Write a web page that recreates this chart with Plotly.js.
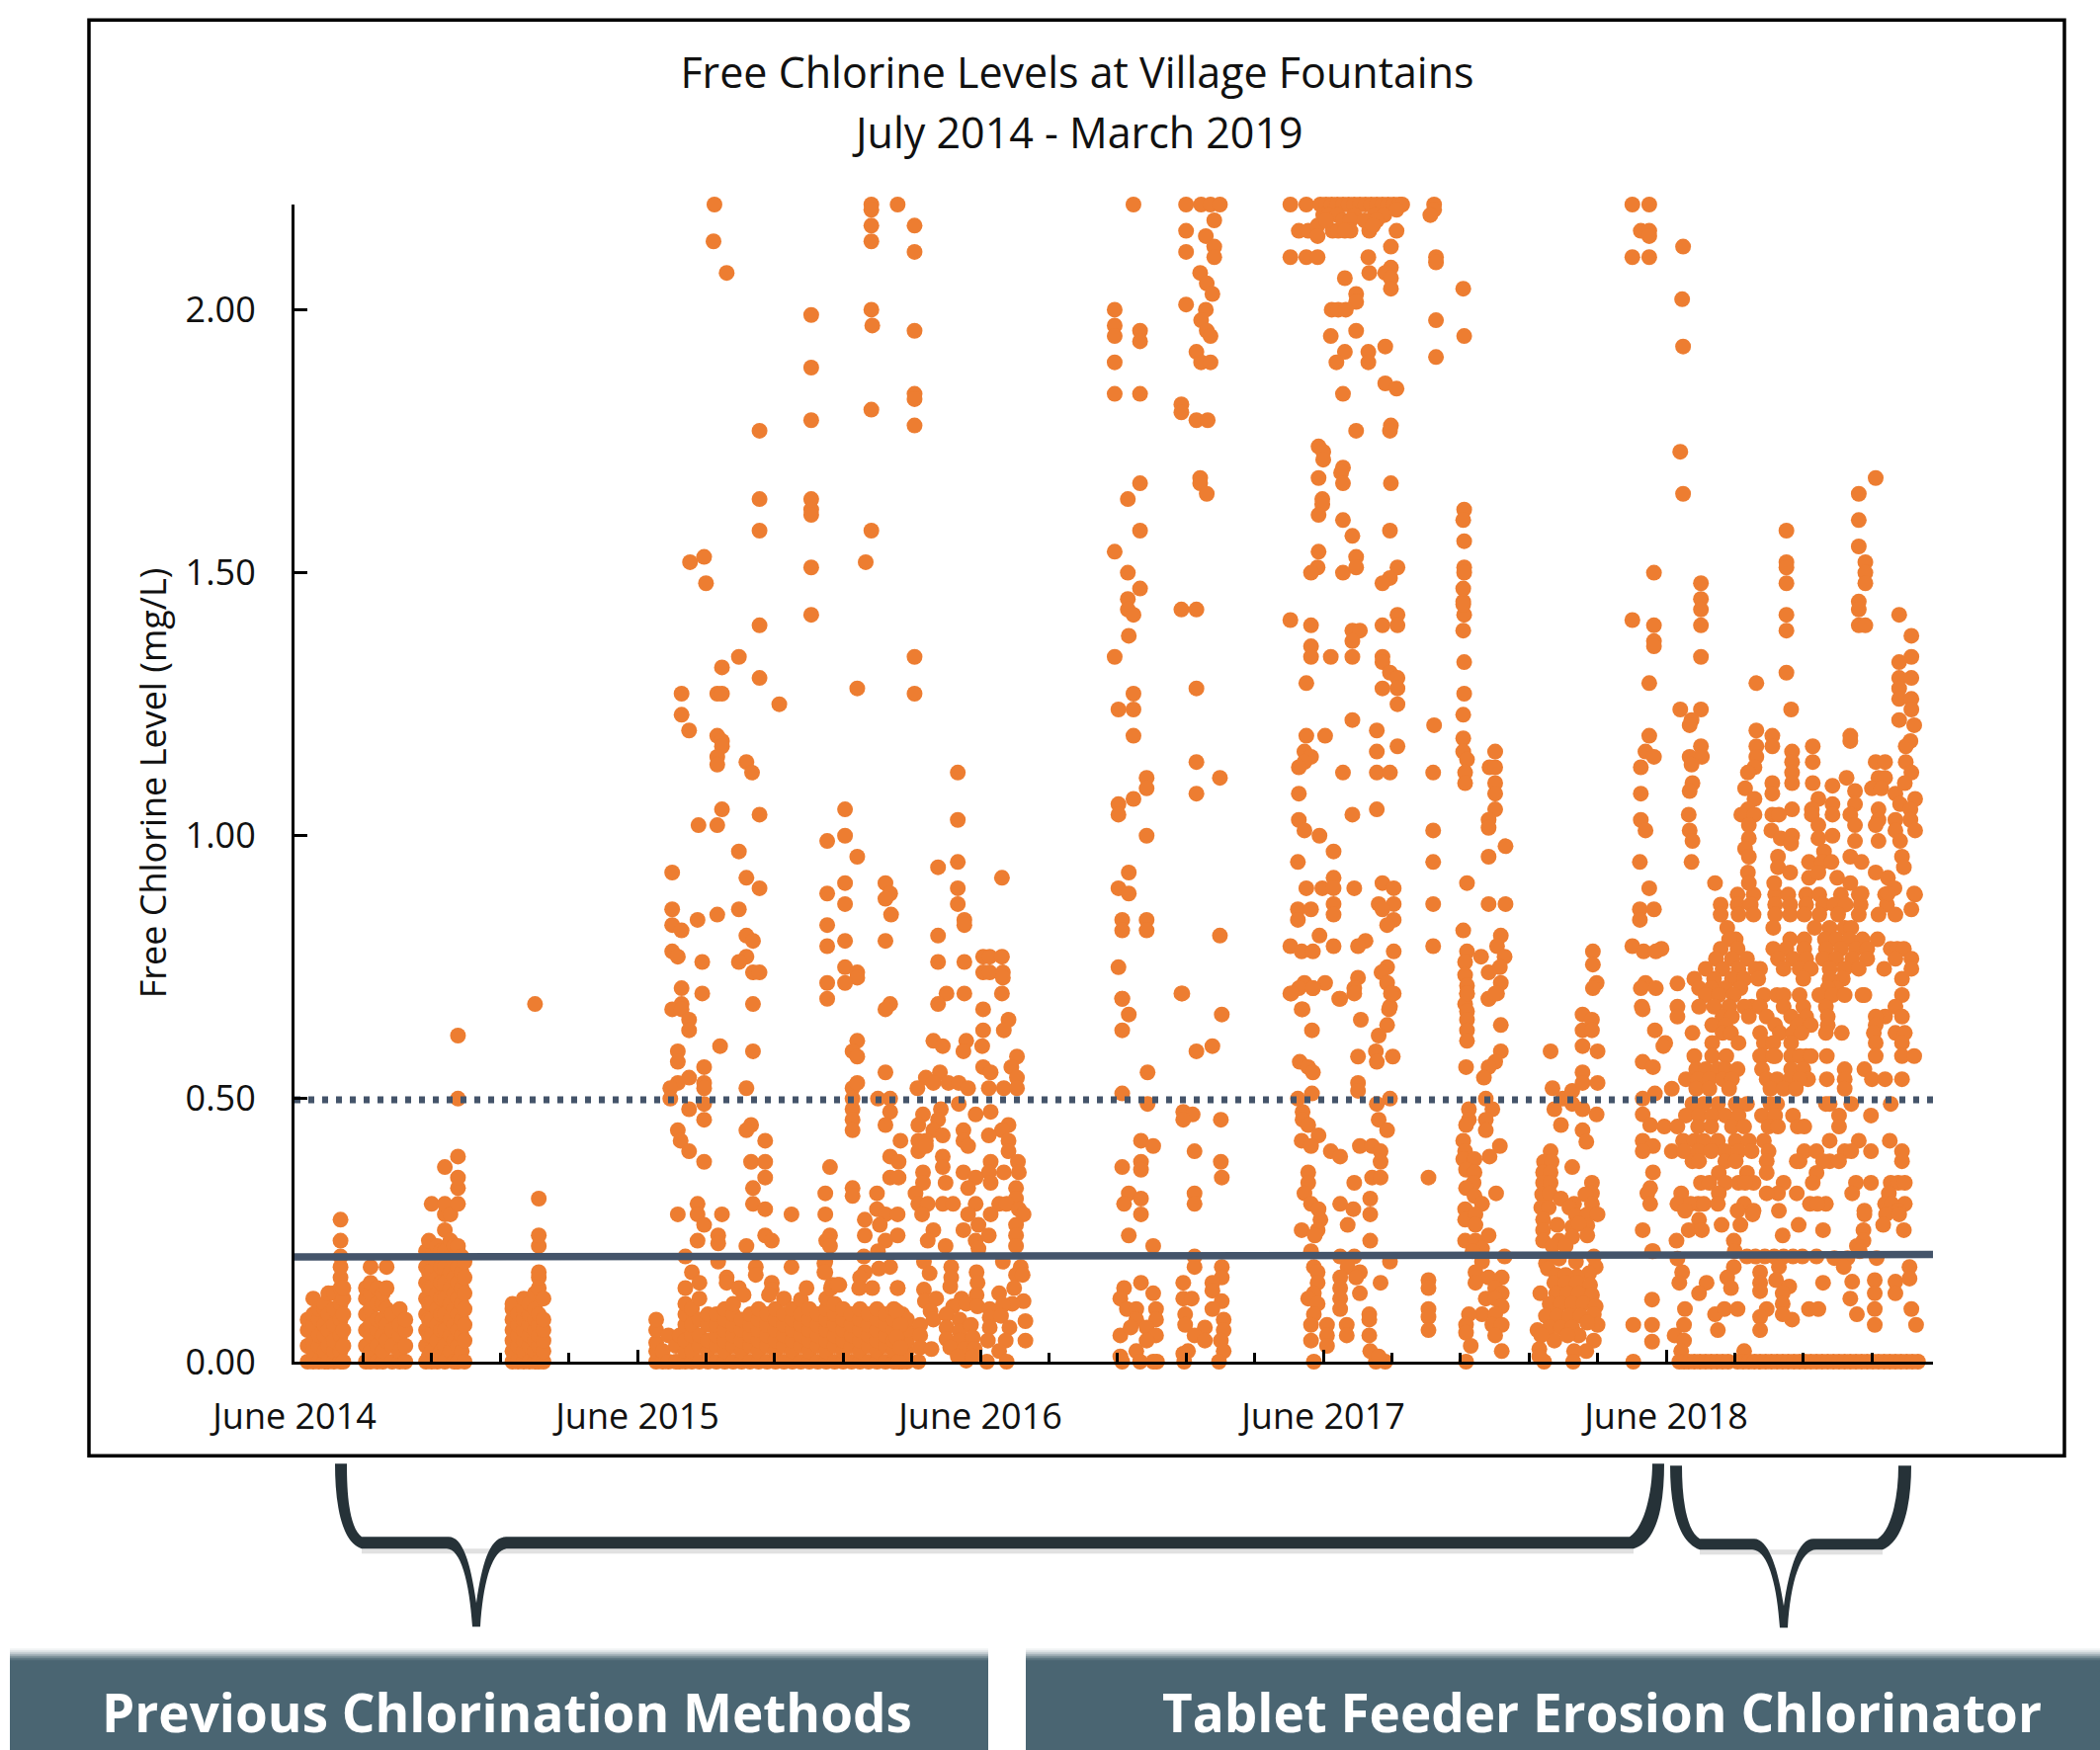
<!DOCTYPE html>
<html><head><meta charset="utf-8">
<script src="https://cdn.plot.ly/plotly-3.0.1.min.js"></script>
<style>html,body{margin:0;padding:0;background:#fff}</style></head>
<body><div id="chart" style="width:2125px;height:1771px"></div>
<script>
// Day counts are days since 1 June 2014. Levels in mg/L.
const tickLabels = ["June 2014","June 2015","June 2016","June 2017","June 2018"];
const tickDays = [0,365,730,1095,1460];
const levelTicks = [0,0.5,1,1.5,2];
const limitDays = [0,1884];
const solidLimit = [0.199,0.204];
const dottedLimit = [0.498,0.498];

// columns: [day,[levels]]
const columns2014 = [
[14,[0,.03,.06,.08]],[20,[0,.02,.04,.07,.09,.12]],[26,[0,.03,.05,.08,.1]],[32,[0,.02,.05,.07,.1,.11]],
[36,[0,.03,.06,.09,.13]],[42,[0,.02,.04,.07,.1,.13]],[49,[0,.02,.05,.08,.11,.14,.16,.18,.2,.23,.27]],[52,[0,.03,.06,.09,.12,.14]],
[76,[0,.03,.06,.09,.12,.14]],[81,[0,.02,.05,.07,.1,.13,.15,.18]],[88,[0,.03,.06,.08,.11,.14]],[94,[0,.02,.05,.08,.11,.13]],
[98,[.04,.07,.1,.14,.18]],[104,[0,.03,.06,.09]],[112,[0,.02,.05,.07,.1]],[118,[0,.03,.06,.08]],
[140,[0,.03,.06,.09,.12,.15,.18,.21]],[143,[.01,.05,.08,.11,.14,.17,.2,.23]],[146,[0,.02,.05,.08,.11,.14,.17,.2,.3]],[152,[0,.04,.07,.1,.13,.16,.19,.22]],[156,[.02,.06,.09,.12,.15,.18,.21]],[160,[0,.03,.06,.09,.12,.15,.18,.21,.25,.28,.3,.37]],
[166,[.02,.05,.08,.11,.14,.17,.2,.23,.28]],[170,[0,.04,.07,.1,.13,.16,.19,.22]],[174,[0,.03,.06,.09,.12,.15,.18,.21,.22,.3,.33,.35,.39,.5,.62]],[178,[.02,.05,.08,.11,.14,.17,.2]],[181,[0,.04,.07,.1,.13,.16,.19]],
[232,[0,.02,.04,.06,.08,.1,.11]],[238,[0,.03,.05,.07,.09]],[244,[0,.02,.04,.06,.08,.1,.12]],[250,[0,.03,.05,.07,.09,.11]],
[256,[0,.02,.04,.06,.08,.1,.13,.68]],[260,[0,.03,.05,.07,.09,.14,.16,.17,.22,.24,.31]],[265,[0,.02,.04,.06,.08,.12]]
];
const columnsBase2015 = [
[385,[0,.02,.036,.06,.08]],[392,[0,.02]],[398,[0,.05]],[406,[0,.03]],[410,[0,.05]],[416,[0,.02,.04,.07,.09,.11,.14,.2]],[423,[0,.02,.05,.07,.1,.17]],
[431,[0,.03,.05,.08,.12,.15]],[440,[0,.02,.04,.07,.09]],[449,[0,.03,.05,.07,.09]],[458,[0,.02,.04,.06,.08,.1]],[467,[0,.03,.05,.07,.09,.11]],
[476,[0,.02,.04,.06,.08]],[485,[0,.03,.05,.07,.09]],[494,[0,.02,.04,.06,.08,.1]],[503,[0,.03,.05,.07,.09]],
[512,[0,.02,.04,.06,.08,.1]],[521,[0,.03,.05,.07,.09,.12]],[530,[0,.02,.04,.06,.08,.1]],[539,[0,.03,.05,.07,.09,.118]],
[548,[0,.02,.04,.06,.08,.1]],[557,[0,.03,.05,.07,.09]],[566,[0,.02,.04,.06,.08,.1,.12]],[575,[0,.03,.05,.07,.09,.11]],
[584,[0,.02,.04,.06,.08,.1]],[593,[0,.03,.05,.07,.09]],[602,[0,.02,.04,.06,.08,.1]],[611,[0,.03,.05,.07,.09]],
[620,[0,.02,.04,.06,.08,.1]],[629,[0,.03,.05,.07,.09]],[638,[0,.02,.04,.06,.08,.1]],[647,[0,.03,.05,.07,.09]],[652,[0,.02,.04,.06,.08]]
];
// rows: [level,[days]]
const rowsLate2018 = [
[.888,[1536,1553,1576,1590,1609,1623,1646,1665,1693,1725]],
[.869,[1518,1536,1550,1576,1592,1609,1627,1639,1651,1667,1695]],
[.86,[1721]],
[.85,[1518,1537,1553,1576,1592,1607,1623,1643,1665,1686,1704]],
[.825,[1525,1574,1618,1634,1650,1657]],
[.803,[1534,1527,1592,1607,1629,1641,1655,1669,1685]],
[.785,[1518,1536,1574,1588,1607,1630,1646,1662,1674,1699,1706,1713,1455]],
[.766,[1513,1530,1546,1579,1595,1609,1627,1641,1658,1674,1704,1721]],
[.747,[1502,1520,1537,1560,1555,1585,1602,1614,1634,1650,1665,1692,1721]],
[.728,[1490,1511,1530,1543,1558,1606,1634,1648,1711]],
[.719,[1472]],
[.71,[1495,1508,1523,1539,1641,1632]],
[.697,[1502,1516,1532,1564,1578,1585,1602,1623,1637,1650,1669,1671,1711]],
[.675,[1472,1495,1511,1527,1551,1543,1560,1606,1585,1630,1704]],
[.656,[1472,1520,1530,1548,1567,1593,1609,1632,1693,1683,1711]],
[.64,[1509,1523,1576,1600,1614,1632,1683]],
[.625,[1488,1520,1529,1560,1581,1595,1604,1630,1647,1681,1704,1714]],
[.606,[1509,1459,1537,1564,1574,1593,1683,1711]],
[.581,[1490,1509,1524,1562,1576,1593,1609,1560,1574,1602,1614,1631,1683,1711,1724]],
[.556,[1492,1502,1515,1523,1536,1562,1593,1606,1650,1671]],
[.537,[1481,1494,1506,1520,1530,1567,1578,1592,1611,1602,1650,1679,1711,1693,1631]],
[.519,[1466,1492,1506,1527,1571,1585,1598,1650]],
[.49,[1488,1500,1515,1534,1546,1571,1578,1630,1657,1699,1634]],
[.468,[1481,1495,1509,1523,1537,1562,1576,1595,1678,1644]],
[.447,[1458,1472,1494,1508,1530,1543,1569,1579,1600,1607,1644]],
[.42,[1478,1490,1500,1515,1534,1548,1564,1634,1665,1698]],
[.40,[1466,1479,1494,1508,1523,1537,1551,1569,1607,1620,1650,1657,1678,1711]],
[.381,[1488,1495,1523,1534,1567,1602,1599,1634,1627,1644,1711]],
[.359,[1546,1567,1516,1620]],
[.34,[1497,1506,1523,1537,1553,1544,1585,1662,1699,1707,1714,1616,1678]],
[.32,[1476,1516,1599,1579,1567,1658,1697]],
[.30,[1472,1494,1486,1500,1515,1543,1613,1630,1621,1714,1693,1700]],
[.287,[1480,1536,1553,1580,1671,1707]]
];
// pairs: day, level, day, level ...
const readingsHigh2015 = [447,2.2,446,2.13,460,2.07,614,2.2,614,2.19,614,2.16,614,2.13,642,2.2,660,2.16,660,2.11,614,2,550,1.99,615,1.97,660,1.96,550,1.89,660,1.84,660,1.83,614,1.81,550,1.79,495,1.77,660,1.78,495,1.64,550,1.64,550,1.62,550,1.61,495,1.58,614,1.58,436,1.53,421,1.52,550,1.51,608,1.52,438,1.48,
550,1.42,495,1.4,473,1.34,660,1.34,455,1.32,495,1.3,599,1.28,412,1.27,450,1.27,455,1.27,660,1.27,516,1.25,412,1.23,420,1.2,450,1.19,455,1.18,455,1.17,450,1.15,450,1.135,481,1.14,487,1.12,706,1.12,455,1.05,495,1.04,586,1.05,430,1.02,450,1.02,706,1.03,586,1,567,.99,473,.97,599,.96,685,.94,706,.95,402,.93,481,.92,753,.92,586,.91,495,.9,629,.91,634,.89,567,.89,629,.88,586,.87,706,.9,706,.87,
402,.86,473,.86,450,.85,429,.84,635,.85,713,.84,713,.83,402,.83,412,.82,567,.83,685,.81,481,.81,488,.8,586,.8,629,.8,567,.79,402,.78,408,.77,434,.76,481,.77,473,.76,488,.74,495,.74,586,.75,599,.74,599,.73,586,.72,567,.72,685,.76,713,.76,733,.77,740,.77,753,.77,733,.74,740,.74,754,.74,754,.73,753,.7,713,.7,694,.7,434,.7,412,.71,412,.68,402,.67,567,.69,488,.68,634,.68,629,.67,685,.68,733,.67];
const readingsMid2015 = [412,.67,420,.65,420,.63,760,.65,755,.63,733,.63,680,.61,690,.6,715,.61,712,.59,732,.6,453,.6,488,.59,408,.59,408,.57,436,.56,599,.61,594,.59,599,.58,769,.58,763,.56,733,.56,741,.55,629,.55,687,.55,672,.54,769,.54,420,.54,436,.53,408,.53,400,.52,436,.52,481,.52,594,.52,599,.53,663,.52,680,.53,696,.53,707,.53,717,.52,739,.52,755,.52,769,.52,
400,.5,436,.49,594,.5,621,.5,634,.5,707,.49,688,.48,741,.475,420,.48,436,.46,594,.48,594,.46,634,.475,629,.45,725,.47,669,.47,664,.45,685,.46,408,.44,594,.44,486,.45,481,.44,501,.42,411,.42,680,.44,712,.44,760,.45,753,.44,690,.43,739,.43,645,.42,664,.42,672,.42,712,.42,760,.42,420,.4,717,.41,664,.4,672,.41,760,.4,
436,.38,486,.38,501,.38,634,.39,643,.38,690,.39,690,.37,770,.38,741,.38,570,.37,712,.36,669,.36,739,.36,755,.36,771,.36,501,.35,634,.35,643,.35,725,.35,693,.34,669,.34,717,.33,741,.34,768,.33,488,.33,565,.32,594,.33,594,.315,620,.32,661,.32,750,.3,768,.31,
429,.3,488,.3,501,.29,620,.29,664,.3,674,.3,690,.3,701,.3,725,.3,758,.3,771,.29,408,.28,455,.28,429,.28,529,.28,565,.28,629,.28,642,.28,668,.28,717,.28,741,.28,776,.28,607,.27,436,.26,623,.26,728,.26,712,.25,680,.25,768,.26,
429,.23,451,.24,451,.225,570,.24,566,.23,501,.24,508,.23,607,.24,642,.24,674,.23,693,.22,725,.23,739,.24,768,.24,570,.22,629,.23,481,.22,621,.21,728,.215,768,.22];
const readingsLow2015 = [451,.19,529,.18,565,.19,565,.17,491,.18,491,.165,460,.16,460,.15,473,.14,478,.127,508,.15,508,.137,505,.127,545,.14,572,.146,580,.146,607,.17,606,.2,602,.16,601,.14,615,.14,642,.14,634,.18,622,.177,571,.14,578,.146,564,.187,564,.17,
670,.19,676,.168,699,.18,699,.16,773,.18,768,.165,775,.165,726,.17,727,.15,726,.127,642,.14,754,.19,670,.137,698,.143,766,.14,750,.13,671,.115,683,.12,710,.12,776,.115,764,.11,677,.096,701,.105,715,.11,727,.105,740,.1,754,.108,680,.08,694,.09,708,.08,740,.084,752,.087,778,.077,666,.07,694,.065,708,.058,720,.07,740,.065,761,.065,666,.05,694,.043,708,.04,722,.046,738,.04,757,.04,778,.04,666,.027,678,.024,698,.027,713,.024,724,.024,750,.02,664,0,715,.002,737,0,758,0,706,.01,722,.01,643,0,641,.096,645,.07,641,.046,645,.027];
const readingsHigh2016 = [893,2.2,949,2.2,965,2.2,975,2.2,985,2.2,979,2.17,949,2.15,970,2.14,949,2.11,979,2.12,979,2.1,964,2.07,971,2.05,977,2.03,949,2.01,970,2,965,1.98,873,2,873,1.97,873,1.95,900,1.96,900,1.94,971,1.96,975,1.95,960,1.92,965,1.9,975,1.9,873,1.9,873,1.84,900,1.84,944,1.82,944,1.805,960,1.79,972,1.79,900,1.67,887,1.64,964,1.68,964,1.67,971,1.65,900,1.58,873,1.54,887,1.5,900,1.47,887,1.45,
887,1.43,893,1.42,888,1.38,873,1.34,893,1.27,877,1.24,893,1.24,893,1.19,907,1.11,907,1.09,893,1.07,877,1.06,877,1.04,907,1,888,.93,877,.9,888,.89,881,.84,881,.82,907,.84,907,.82,877,.75,881,.69,944,1.43,960,1.43,960,1.28,960,1.14,985,1.11,960,1.08,985,.81,944,.7,
881,.69,888,.66,881,.63,945,.7,987,.66,977,.6,960,.59,908,.55,881,.51,908,.49,946,.475,956,.47,946,.46,986,.46,901,.42,914,.41,958,.4,986,.38,881,.37,901,.38,901,.365,987,.35,958,.32,888,.32,901,.31,883,.3,958,.3,901,.28,888,.24,914,.22];
const readingsLow2016 = [958,.2,958,.18,987,.18,987,.16,946,.15,977,.15,901,.15,883,.14,914,.13,977,.135,946,.12,987,.115,879,.12,955,.12,977,.1,886,.1,896,.1,917,.1,948,.09,989,.08,896,.08,917,.08,879,.05,890,.065,907,.065,917,.05,948,.07,969,.065,989,.06,958,.05,969,.04,907,.04,986,.04,989,.02,951,.02,879,.01,896,.02,881,0,900,0,914,0,918,0,947,0,984,0,946,.015];
const readingsTop2017 = [1060,2.2,1077,2.2,1092,2.2,1098,2.2,1104,2.2,1110,2.2,1116,2.2,1122,2.2,1128,2.2,1134,2.2,1140,2.2,1146,2.2,1152,2.2,1158,2.2,1164,2.2,1170,2.2,1176,2.2,1179,2.2,1095,2.18,1101,2.18,1110,2.18,1128,2.18,1150,2.18,1160,2.18,1069,2.15,1079,2.15,1089,2.16,1089,2.14,1105,2.15,1111,2.15,1116,2.17,1124,2.17,1124,2.15,1144,2.15,1139,2.17,1152,2.17,1173,2.15,1173,2.19,1098,2.17,1118,2.15,1148,2.16,1060,2.1,1077,2.1,1089,2.1,1143,2.1,1167,2.12,1167,2.08,1144,2.07,1161,2.07,1167,2.06,1167,2.04,1118,2.06,1130,2.03,1130,2.015,1104,2,1111,2,1119,2,1130,1.96,1103,1.95,1118,1.92,1143,1.92,1161,1.93,1109,1.9,1143,1.9,1161,1.86,1173,1.85,1116,1.84,1167,1.78,1166,1.77,1130,1.77,
1090,1.74,1095,1.73,1095,1.715,1116,1.7,1114,1.69,1090,1.68,1116,1.67,1167,1.67,1094,1.64,1094,1.63,1090,1.61,1116,1.6,1126,1.57,1166,1.58,1090,1.54,1130,1.53,1089,1.51,1082,1.5,1116,1.5,1130,1.51,1174,1.51,1166,1.49,1158,1.48,1245,1.62,1244,1.6,1245,1.56,1245,1.51,1245,1.5,1244,1.47,1244,1.445,1213,2.2,1213,2.19,1209,2.18,1215,2.1,1215,2.09,1244,2.04,1215,1.98,1245,1.95,1215,1.91];
const readingsMid2017 = [1060,1.41,1082,1.4,1126,1.39,1134,1.39,1126,1.37,1158,1.4,1174,1.42,1174,1.4,1082,1.36,1082,1.34,1103,1.34,1126,1.34,1158,1.34,1158,1.33,1166,1.31,1174,1.3,1174,1.28,1158,1.28,1174,1.25,1077,1.29,1126,1.22,1152,1.2,1077,1.19,1097,1.19,1174,1.17,1075,1.16,1152,1.16,1082,1.15,1075,1.14,1069,1.13,1116,1.12,1152,1.12,1166,1.12,1069,1.08,1152,1.05,1126,1.04,1069,1.03,1075,1.01,1091,1,1106,.97,1068,.95,
1106,.92,1077,.9,1094,.9,1106,.9,1128,.9,1158,.91,1170,.9,1106,.87,1068,.86,1082,.86,1154,.87,1170,.87,1158,.86,1106,.85,1068,.84,1170,.84,1163,.83,1091,.81,1140,.8,1132,.79,1106,.79,1060,.79,1072,.78,1084,.78,1170,.78,1163,.75,1157,.74,1132,.73,1075,.72,1097,.72,1163,.72,1128,.71,1084,.71,1060,.7,1069,.71,1170,.7,1112,.69,1166,.675,1072,.67,
1213,1.21,1244,1.23,1245,1.27,1245,1.33,1244,1.39,1245,1.42,1244,1.44,1244,1.185,1244,1.16,1248,1.145,1246,1.12,1246,1.1,1212,1.12,1212,1.01,1212,.95,1212,.87,1212,.79,1244,.82,1248,.91,1248,.78,1246,.76,1246,.735,1248,.715,1248,.7,1246,.68,
1278,1.16,1272,1.13,1278,1.13,1278,1.1,1278,1.08,1278,1.05,1271,1.03,1271,1.015,1289,.98,1271,.96,1271,.87,1289,.87,1284,.81,1280,.79,1263,.77,1288,.77,1283,.75,1271,.74,1284,.72,1280,.7,1271,.69,1382,.78,1382,.755,1386,.72,1382,.71];
const readingsLow2017 = [1061,.7,1084,.71,1073,.67,1083,.63,1113,.69,1128,.7,1167,.7,1165,.67,1135,.65,1163,.64,1154,.62,1151,.59,1132,.58,1152,.57,1169,.58,1070,.57,1079,.56,1084,.55,1132,.53,1132,.515,1083,.51,1068,.5,1166,.5,1152,.49,1073,.475,1154,.46,1073,.46,1079,.45,1163,.44,1090,.43,1072,.42,1082,.41,1134,.41,1147,.41,1103,.4,1113,.39,1156,.4,1156,.38,1079,.36,1079,.34,1128,.34,1147,.35,1156,.35,1075,.32,1082,.3,1090,.29,1113,.3,1127,.29,1145,.31,1145,.28,1092,.27,1121,.26,1072,.25,1089,.25,1086,.24,1145,.23,1082,.21,1113,.2,1128,.2,1166,.19,1085,.18,1121,.18,1089,.17,1134,.17,1113,.16,1130,.16,1156,.15,1089,.15,1113,.14,1134,.13,1085,.13,1079,.12,1113,.12,1089,.11,1113,.1,1144,.09,1085,.09,1082,.07,1099,.07,1120,.07,1144,.08,1082,.04,1099,.05,1099,.03,1120,.05,1144,.05,1145,.02,1085,0,1151,0,1161,0,1154,.01,
1207,.35,1207,.155,1207,.14,1207,.1,1207,.085,1207,.06,
1248,.7,1248,.666,1248,.65,1248,.63,1248,.61,1271,.69,1278,.7,1284,.64,1284,.59,1278,.57,1271,.56,1247,.56,1266,.54,1268,.5,1250,.48,1275,.48,1250,.46,1268,.46,1268,.44,1247,.45,1244,.42,1283,.41,1272,.39,1246,.4,1244,.385,1256,.385,1247,.365,1256,.36,1255,.34,1247,.33,1279,.32,1256,.315,1264,.3,1246,.29,1246,.27,1257,.28,1257,.26,1271,.24,1246,.23,1257,.23,1264,.215,1254,.21,1288,.2,1264,.19,1257,.17,1271,.16,1257,.15,1285,.16,1278,.14,1285,.13,1268,.12,1278,.12,1285,.105,1264,.09,1250,.09,1278,.09,1247,.07,1275,.07,1285,.07,1247,.055,1278,.05,1252,.03,1285,.02,1247,0,
1337,.59,1339,.52,1341,.48,1348,.45,1350,.5,1360,.515,1371,.55,1371,.53,1371,.66,1381,.65,1371,.63,1381,.63,1371,.6,1387,.59,1387,.53,1360,.49,1371,.48,1386,.47,1371,.44,
1337,.4,1330,.38,1338,.38,1329,.36,1337,.36,1360,.37,1375,.418,1329,.34,1337,.34,1381,.34,1328,.318,1336,.32,1348,.31,1381,.32,1374,.318,1327,.293,1335,.293,1362,.3,1357,.293,1381,.3,1329,.27,1344,.26,1364,.278,1376,.28,1387,.28,1329,.25,1329,.23,1360,.256,1376,.259,1367,.262,1360,.237,1376,.24,1346,.23,1339,.22,1353,.22,1383,.2,
1332,.187,1346,.196,1364,.19,1385,.18,1334,.177,1378,.168,1365,.162,1343,.165,1341,.15,1353,.165,1353,.15,1365,.15,1379,.146,1326,.13,1343,.13,1355,.13,1367,.13,1381,.127,1336,.11,1348,.11,1360,.11,1372,.11,1385,.105,1332,.087,1344,.087,1357,.087,1369,.087,1383,.09,1387,.07,1323,.06,1336,.065,1348,.065,1360,.065,1376,.074,1341,.04,1327,.05,1367,.05,1355,.05,1383,.04,1325,.024,1375,.02,1362,.02,1330,0,1361,0,1325,.01,
1425,0,1425,.07,1445,.118,1445,.07,1445,.038,1445,.21];
const readingsHigh2018 = [1424,2.2,1442,2.2,1433,2.15,1442,2.15,1442,2.14,1478,2.12,1424,2.1,1442,2.1,1477,2.02,1478,1.93,1475,1.73,1478,1.65,1447,1.5,1497,1.48,1588,1.58,1588,1.52,1588,1.51,1588,1.48,1665,1.65,1683,1.68,1665,1.6,1665,1.55,1672,1.52,1672,1.5,1672,1.48,1497,1.45,1665,1.445,
1424,1.41,1447,1.4,1447,1.37,1447,1.36,1497,1.43,1497,1.4,1588,1.42,1588,1.39,1665,1.43,1665,1.4,1672,1.4,1708,1.42,1721,1.38,1721,1.34,1708,1.33,1497,1.34,1588,1.31,1708,1.3,1721,1.3,1708,1.28,1708,1.26,1721,1.26,1721,1.24,1708,1.22,1724,1.21,1442,1.29,1556,1.29,1475,1.24,1497,1.24,1593,1.24,1487,1.22,1485,1.21,1442,1.19,1556,1.2,1573,1.19,1556,1.17,1573,1.17,1497,1.17,1616,1.17,1656,1.19,1656,1.18,1438,1.16,1447,1.15,1485,1.15,1498,1.15,1487,1.135,1433,1.13,1594,1.16,1594,1.14,1594,1.12,1616,1.14,1556,1.15,1554,1.13,1547,1.12,1720,1.18,1715,1.17,1715,1.14,1721,1.12,1683,1.14,1693,1.14,1686,1.11,1693,1.11,1488,1.1,1485,1.085,1433,1.08,1544,1.09,1573,1.1,1573,1.08,1594,1.1,1616,1.1,1637,1.095,1652,1.11,1661,1.085,1679,1.09,1689,1.09,1714,1.1,1704,1.08,1725,1.07,1709,1.06,1622,1.07,1615,1.05,1637,1.06,1661,1.06,1554,1.07,1547,1.05,1594,1.05,1484,1.04,1433,1.03,1540,1.04,1554,1.04,1573,1.04,1580,1.04,1615,1.04,1637,1.04,1656,1.04,1686,1.05,1686,1.03,1720,1.05,1720,1.03,1704,1.03,1438,1.01,1485,1.01,1488,.99,1548,1.02,1548,.995,1572,1.01,1582,.995,1594,1,1593,.985,1622,1.02,1622,.995,1637,1,1661,1.02,1661,.99,1683,1.02,1704,1.01,1725,1.01,1686,.99,1709,.99];
const readingsMid2018 = [1544,.975,1548,.96,1579,.96,1628,.97,1432,.95,1487,.95,1656,.96,1668,.95,1711,.96,1713,.94,1579,.94,1592,.93,1612,.95,1626,.95,1636,.95,1547,.93,1683,.93,1696,.92,1442,.9,1512,.91,1548,.91,1575,.91,1612,.92,1622,.93,1642,.92,1656,.91,1703,.9,1696,.89,1724,.89,1668,.89,
1432,.86,1447,.86,1432,.84,1424,.79,1436,.78,1449,.78,1438,.72,1433,.71,1449,.71,1434,.675,1435,.67,1435,.57,1446,.56,1448,.63,1457,.6,1435,.5,1448,.51,1435,.47,1443,.45,1435,.42,1446,.41,1435,.4,1446,.36,1443,.33,1440,.32,1443,.3,
1552,.28,1539,.26,1519,.26,1495,.27,1484,.25,1471,.23,1498,.25,1532,.23,1601,.26,1627,.25,1584,.24,1694,.28,1708,.28,1671,.28,1691,.26,1670,.25,1713,.25,1670,.23,1663,.22,1435,.25,1446,.21];
const readingsLow2018 = [1472,.196,1533,.21,1546,.2,1555,.2,1565,.2,1575,.2,1585,.2,1595,.2,1605,.2,1620,.2,1639,.197,1653,.197,1666,.21,1684,.197,1477,.17,1474,.15,1503,.15,1532,.18,1525,.16,1529,.14,1495,.13,1560,.17,1560,.15,1580,.18,1577,.155,1591,.143,1584,.13,1560,.134,1649,.18,1627,.15,1658,.152,1682,.155,1682,.13,1704,.152,1704,.13,1719,.18,1719,.158,1656,.12,1584,.11,1567,.1,1560,.085,1594,.08,1612,.1,1622,.1,1512,.09,1515,.06,1522,.1,1536,.1,1560,.06,1584,.09,1663,.09,1682,.1,1682,.07,1721,.1,1726,.07,1480,.1,1479,.07,1469,.05,1479,.04,1476,.02,1543,.02,
1474,0,1479,0,1484,0,1490,0,1496,0,1502,0,1508,0,1514,0,1520,0,1526,0,1536,0,1542,0,1548,0,1554,0,1560,0,1566,0,1572,0,1578,0,1584,0,1590,0,1596,0,1602,0,1608,0,1614,0,1620,0,1626,0,1632,0,1638,0,1644,0,1650,0,1656,0,1662,0,1668,0,1674,0,1680,0,1686,0,1692,0,1698,0,1704,0,1710,0,1716,0,1722,0,1728,0];

const days = [], levels = [];
[columns2014,columnsBase2015].forEach(t=>t.forEach(c=>c[1].forEach(v=>{days.push(c[0]);levels.push(v);})));
rowsLate2018.forEach(r=>r[1].forEach(d=>{days.push(d);levels.push(r[0]);}));
[readingsHigh2015,readingsMid2015,readingsLow2015,readingsHigh2016,readingsLow2016,readingsTop2017,readingsMid2017,readingsLow2017,readingsHigh2018,readingsMid2018,readingsLow2018].forEach(t=>{
  for(let i=0;i<t.length;i+=2){days.push(t[i]);levels.push(t[i+1]);}
});

// page pixel -> paper coordinate, for the slide furniture around the chart
const L=298,R=1956,T=206.7,B=1377.7;
const px=x=>(x-L)/(R-L), py=y=>(B-y)/(B-T);
const P=(s)=>s.replace(/(-?\d+\.?\d*) (-?\d+\.?\d*)/g,(m,a,b)=>px(+a)+' '+py(+b));
const rect=(x0,y0,x1,y1,fill,line,w,op)=>({type:'rect',xref:'paper',yref:'paper',x0:px(x0),x1:px(x1),y0:py(y0),y1:py(y1),fillcolor:fill||'rgba(0,0,0,0)',opacity:op==null?1:op,line:line?{color:line,width:w}:{width:0},layer:'below'});
const braceColor='#263238', bannerColor='#4A6572';
const brace=(d)=>({type:'path',xref:'paper',yref:'paper',path:P(d),fillcolor:braceColor,line:{width:0},layer:'above'});
const shapes=[
 rect(90,20,2089,1473,null,'#000',3.5),
 rect(366,1567,1653,1572,'#888',null,0,.25),
 rect(1720,1568,1905,1573,'#888',null,0,.25),
 brace('M 339 1481 L 351 1481 C 351 1510 353 1545 366 1555 L 454 1555 C 468 1555 476 1580 482 1622 C 488 1580 496 1555 512 1555 L 1649 1555 C 1664 1545 1672 1510 1672 1481 L 1684 1481 C 1684 1520 1678 1560 1653 1567 L 514 1567 C 498 1567 489 1600 486 1646 L 478 1646 C 475 1600 466 1567 452 1567 L 366 1567 C 345 1560 339 1520 339 1481 Z'),
 brace('M 1690 1483 L 1702 1483 C 1702 1515 1706 1548 1720 1557 L 1775 1557 C 1789 1557 1799 1585 1805 1625 C 1811 1585 1820 1557 1835 1557 L 1900 1557 C 1914 1548 1921 1515 1921 1483 L 1934 1483 C 1934 1525 1925 1560 1905 1568 L 1838 1568 C 1822 1568 1812 1600 1809 1647 L 1801 1647 C 1798 1600 1788 1568 1773 1568 L 1720 1568 C 1698 1560 1690 1525 1690 1483 Z')
];
[[1668,.08],[1670,.12],[1672,.2],[1674,.3],[1676,.45],[1678,.65],[1680,1]].forEach(s=>{
  shapes.push(rect(10,s[0],1000,1771,bannerColor,null,0,s[1]));
  shapes.push(rect(1038,s[0],2125,1771,bannerColor,null,0,s[1]));
});
const text=(t,x,y,size,color)=>({text:t,xref:'paper',yref:'paper',x:px(x),y:py(y),xanchor:'center',yanchor:'middle',showarrow:false,font:{family:'"Open Sans"',size:size,color:color}});

const layout={
 width:2125,height:1771,paper_bgcolor:'#fff',plot_bgcolor:'rgba(0,0,0,0)',showlegend:false,
 margin:{l:L,r:2125-R,t:T,b:1771-B,autoexpand:false},
 font:{family:'"Open Sans"',color:'#111'},
 title:{text:'Free Chlorine Levels at Village Fountains',font:{family:'"Open Sans"',size:43,color:'#111'},xref:'paper',yref:'container',x:px(1090),xanchor:'center',y:1-74/1771,yanchor:'middle'},
 xaxis:{range:[0,1744],tickmode:'array',tickvals:tickDays,ticktext:tickLabels,ticks:'inside',ticklen:12,tickwidth:2.5,tickcolor:'#000',
   ticklabelstandoff:22,minor:{ticks:'inside',tick0:0,dtick:73,ticklen:9,tickwidth:2.5,tickcolor:'#000',showgrid:false},
   showline:true,linecolor:'#000',linewidth:3,showgrid:false,zeroline:false,tickfont:{family:'"Open Sans"',size:36,color:'#111'}},
 yaxis:{range:[0,2.2],tickmode:'array',tickvals:levelTicks,ticktext:levelTicks.map(v=>v.toFixed(2)),ticks:'inside',ticklen:13,tickwidth:3,tickcolor:'#000',
   ticklabelstandoff:29,showline:true,linecolor:'#000',linewidth:3,showgrid:false,zeroline:false,tickfont:{family:'"Open Sans"',size:36,color:'#111'},
   title:{text:'Free Chlorine Level (mg/L)',font:{family:'"Open Sans"',size:36,color:'#111'},standoff:8}},
 shapes:shapes,
 annotations:[
  text('July 2014 - March 2019',1090,133,43,'#111'),
  text('<b>Previous Chlorination Methods</b>',513,1732,53,'#fff'),
  text('<b>Tablet Feeder Erosion Chlorinator</b>',1621,1732,53,'#fff')
 ]
};
const traces=[
 {type:'scatter',mode:'markers',x:days,y:levels,cliponaxis:false,hoverinfo:'skip',marker:{size:16,color:'#ED7D31',line:{width:0}}},
 {type:'scatter',mode:'lines',x:limitDays,y:solidLimit,cliponaxis:false,hoverinfo:'skip',line:{color:'#44546A',width:7.5}},
 {type:'scatter',mode:'lines',x:limitDays,y:dottedLimit,cliponaxis:false,hoverinfo:'skip',line:{color:'#44546A',width:7,dash:'6px,8px'}}
];
Plotly.newPlot('chart',traces,layout,{displayModeBar:false,responsive:false});
</script></body></html>
